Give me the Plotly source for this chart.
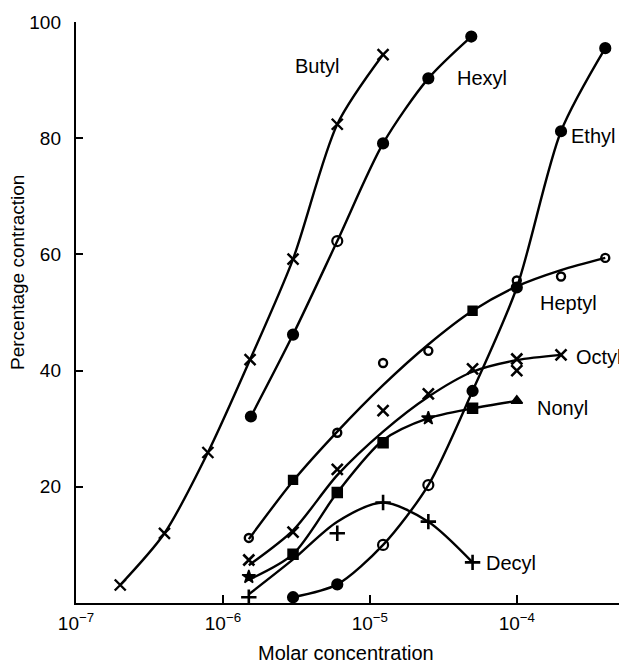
import math
import plotly.graph_objects as go

# ---------------- data ----------------
butyl_x = [2.0e-7, 4.0e-7, 7.9e-7, 1.53e-6, 3.0e-6, 6.0e-6, 1.23e-5]
butyl_y = [3.1, 12.0, 25.9, 41.9, 59.2, 82.4, 94.4]

hexyl_x = [1.55e-6, 3.0e-6, 6.0e-6, 1.23e-5, 2.5e-5, 4.9e-5]
hexyl_y = [32.1, 46.2, 62.3, 79.1, 90.3, 97.5]
hexyl_sym = ["circle", "circle", "circle-open", "circle", "circle", "circle"]

ethyl_x = [3.0e-6, 6.0e-6, 1.23e-5, 2.5e-5, 5.0e-5, 1.0e-4, 2.0e-4, 4.0e-4]
ethyl_y = [1.0, 3.2, 10.0, 20.3, 36.5, 54.3, 81.2, 95.5]
ethyl_sym = ["circle", "circle", "circle-open", "circle-open", "circle", "circle", "circle", "circle"]

heptyl_x = [1.5e-6, 3.0e-6, 6.0e-6, 1.23e-5, 2.5e-5, 5.0e-5, 1.0e-4, 2.0e-4, 4.0e-4]
heptyl_y = [11.2, 21.2, 29.3, 41.3, 43.4, 50.3, 55.5, 56.2, 59.4]
heptyl_sym = ["circle-open", "square", "circle-open", "circle-open", "circle-open",
              "square", "circle-open", "circle-open", "circle-open"]
heptyl_curve_y = [11.0, 21.0, 29.5, 37.5, 44.5, 50.3, 54.5, 57.3, 59.4]

octyl_x = [1.5e-6, 3.0e-6, 6.0e-6, 1.23e-5, 2.5e-5, 5.0e-5, 1.0e-4, 1.0e-4, 2.0e-4]
octyl_y = [7.4, 12.2, 23.0, 33.1, 36.0, 40.3, 42.0, 40.0, 42.7]
octyl_curve_x = [1.5e-6, 3.0e-6, 6.0e-6, 1.23e-5, 2.5e-5, 5.0e-5, 1.0e-4, 2.0e-4]
octyl_curve_y = [6.5, 12.5, 22.0, 29.5, 35.5, 39.8, 41.8, 42.7]

nonyl_x = [1.5e-6, 3.0e-6, 6.0e-6, 1.23e-5, 2.5e-5, 5.0e-5, 1.0e-4]
nonyl_y = [4.5, 8.4, 19.0, 27.6, 31.8, 33.5, 34.8]
nonyl_sym = ["star", "square", "square", "square", "star", "square", "triangle-up"]
nonyl_curve_y = [4.0, 8.4, 19.0, 28.0, 31.8, 33.5, 34.8]

decyl_x = [1.5e-6, 6.0e-6, 1.23e-5, 2.5e-5, 5.0e-5]
decyl_y = [1.0, 12.0, 17.3, 14.0, 7.0]
decyl_curve_x = [1.5e-6, 3.0e-6, 6.0e-6, 1.23e-5, 2.5e-5, 5.0e-5]
decyl_curve_y = [1.5, 7.5, 14.0, 17.3, 14.0, 7.0]

# series labels: text and left-edge anchor (concentration, % contraction)
label_text = ["Butyl", "Hexyl", "Ethyl", "Heptyl", "Octyl", "Nonyl", "Decyl"]
label_x = [3.0e-6, 3.78e-5, 2.26e-4, 1.39e-4, 2.45e-4, 1.32e-4, 5.97e-5]
label_y = [92.4, 90.3, 80.3, 51.7, 42.4, 33.6, 6.9]

x_tickvals = [1e-7, 1e-6, 1e-5, 1e-4]
x_ticktext = ["10<sup>−7</sup>", "10<sup>−6</sup>", "10<sup>−5</sup>", "10<sup>−4</sup>"]
y_tickvals = [20, 40, 60, 80, 100]
y_ticktext = ["20", "40", "60", "80", "100"]

FONT = "Liberation Sans, Arial, sans-serif"
LW = 2.4

fig = go.Figure()


def curve(x, y):
    fig.add_trace(go.Scatter(x=x, y=y, mode="lines",
                             line=dict(color="black", width=LW, shape="spline", smoothing=0.8),
                             hoverinfo="skip", showlegend=False))


def marks(x, y, symbol, size=10, lw=2.2):
    fig.add_trace(go.Scatter(x=x, y=y, mode="markers",
                             marker=dict(symbol=symbol, size=size, color="black",
                                         line=dict(color="black", width=lw)),
                             showlegend=False))


curve(butyl_x, butyl_y)
marks(butyl_x, butyl_y, "x-thin", 11, 2.4)

curve(hexyl_x, hexyl_y)
marks(hexyl_x, hexyl_y, hexyl_sym, 10, 2.2)

curve(ethyl_x, ethyl_y)
marks(ethyl_x, ethyl_y, ethyl_sym, 10, 2.2)

curve(heptyl_x, heptyl_curve_y)
marks(heptyl_x, heptyl_y, heptyl_sym, 8, 2.4)

curve(octyl_curve_x, octyl_curve_y)
marks(octyl_x, octyl_y, "x-thin", 11, 2.6)

curve(nonyl_x, nonyl_curve_y)
marks(nonyl_x, nonyl_y, nonyl_sym, 10, 1.5)

curve(decyl_curve_x, decyl_curve_y)
marks(decyl_x, decyl_y, "cross-thin", 11, 2.6)

annotations = []
for t, lx, ly in zip(label_text, label_x, label_y):
    annotations.append(dict(x=math.log10(lx), y=ly, xref="x", yref="y", text=t,
                            showarrow=False, xanchor="left", yanchor="middle",
                            font=dict(family=FONT, size=20, color="black")))

annotations.append(dict(x=0.49, y=0, xref="paper", yref="paper", yshift=-50,
                        text="Molar concentration", showarrow=False,
                        xanchor="center", yanchor="middle",
                        font=dict(family=FONT, size=20, color="black")))
annotations.append(dict(x=0, y=0.568, xref="paper", yref="paper", xshift=-58,
                        text="Percentage contraction", showarrow=False, textangle=-90,
                        xanchor="center", yanchor="middle",
                        font=dict(family=FONT, size=19, color="black")))

# page body has an 8px default margin: size/margins compensate for it
fig.update_layout(
    width=619, height=656,
    margin=dict(l=68, r=0, t=14, b=61),
    paper_bgcolor="white", plot_bgcolor="white",
    showlegend=False,
    annotations=annotations,
    xaxis=dict(type="log", range=[-7, -3.25], showgrid=False, zeroline=False,
               showline=True, linecolor="black", linewidth=LW,
               ticks="inside", ticklen=8, tickwidth=LW, tickcolor="black",
               tickvals=x_tickvals, ticktext=x_ticktext, ticklabelstandoff=2,
               tickfont=dict(family=FONT, size=19, color="black")),
    yaxis=dict(range=[0, 100], showgrid=False, zeroline=False,
               showline=True, linecolor="black", linewidth=LW,
               ticks="inside", ticklen=7, tickwidth=LW, tickcolor="black",
               tickvals=y_tickvals, ticktext=y_ticktext, ticklabelstandoff=9,
               tickfont=dict(family=FONT, size=19, color="black")),
)

fig.write_html("out.html")
